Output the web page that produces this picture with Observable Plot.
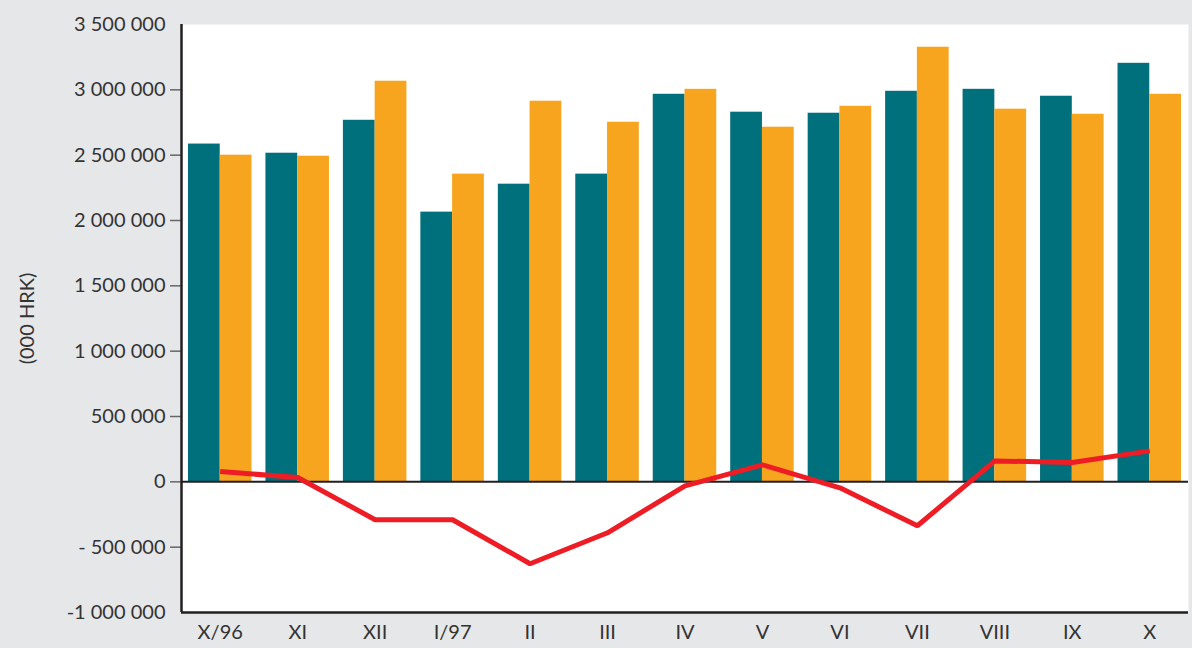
<!DOCTYPE html>
<html>
<head>
<meta charset="utf-8">
<script src="https://cdn.jsdelivr.net/npm/d3@7"></script>
<script src="https://cdn.jsdelivr.net/npm/@observablehq/plot@0.6"></script>
<style>
  html, body { margin: 0; padding: 0; background: #e6e7e9; }
  #chart svg { display: block; }
</style>
</head>
<body>
<div id="chart"></div>
<script>
const months = ["X/96","XI","XII","I/97","II","III","IV","V","VI","VII","VIII","IX","X"];
const seriesA = [2585000, 2515000, 2767000, 2064000, 2278000, 2355000, 2966000, 2829000, 2821000, 2989000, 3004000, 2951000, 3203000];
const seriesB = [2500000, 2492000, 3066000, 2355000, 2913000, 2752000, 3004000, 2714000, 2874000, 3326000, 2852000, 2813000, 2966000];
const balance = [79000, 33000, -290000, -290000, -627000, -390000, -31000, 130000, -46000, -336000, 160000, 148000, 237000];
const yTicks = [-1000000, -500000, 0, 500000, 1000000, 1500000, 2000000, 2500000, 3000000, 3500000];
const yTickLabels = ["-1 000 000", "- 500 000", "0", "500 000", "1 000 000", "1 500 000", "2 000 000", "2 500 000", "3 000 000", "3 500 000"];

const idx = months.map((_, i) => i);
const half = 0.41;
const dataA = idx.map(i => ({i, v: seriesA[i]}));
const dataB = idx.map(i => ({i, v: seriesB[i]}));
const dataL = idx.map(i => ({i, v: balance[i]}));
const font = "Lato, 'Open Sans', sans-serif";

const chart = Plot.plot({
  width: 1192,
  height: 648,
  marginLeft: 181,
  marginRight: 4,
  marginTop: 24,
  marginBottom: 36,
  style: {background: "#e6e7e9", fontFamily: font, fontSize: "20px", color: "#333"},
  x: {type: "linear", domain: [-0.5, 12.5]},
  y: {domain: [-1000000, 3500000]},
  marks: [
    Plot.frame({fill: "white", stroke: null}),
    Plot.rectY(dataA, {x1: d => d.i - half, x2: d => d.i, y1: 0, y2: "v", fill: "#00707c"}),
    Plot.rectY(dataB, {x1: d => d.i, x2: d => d.i + half, y1: 0, y2: "v", fill: "#f7a51e"}),
    Plot.ruleY([0], {stroke: "#231f20", strokeWidth: 2}),
    Plot.line(dataL, {x: "i", y: "v", stroke: "#ee1c25", strokeWidth: 5, strokeLinejoin: "miter", strokeLinecap: "butt"}),
    Plot.axisY(yTicks.slice(1, -1), {tickSize: 11, tickFormat: () => "", stroke: "#666", strokeWidth: 1.5, label: null}),
    Plot.axisY(yTicks, {tickSize: 0, tickPadding: 16, tickFormat: (d, k) => yTickLabels[yTicks.indexOf(d)], fill: "#333", fontSize: 20, label: "(000 HRK)", labelAnchor: "center", labelOffset: 162, labelArrow: "none"}),
    Plot.axisX(idx, {tickSize: 0, tickPadding: 12, tickFormat: i => months[i], fill: "#333", fontSize: 20, label: null}),
    Plot.ruleX([-0.5], {stroke: "#231f20", strokeWidth: 2.5}),
    Plot.ruleY([-1000000], {stroke: "#231f20", strokeWidth: 2.5})
  ]
});
document.getElementById("chart").appendChild(chart);
</script>
</body>
</html>
